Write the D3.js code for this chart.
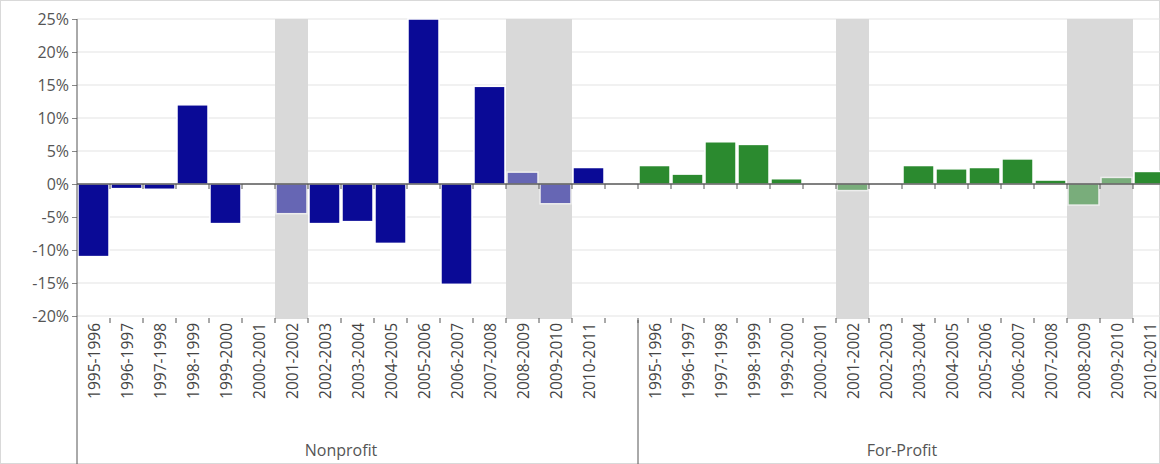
<!DOCTYPE html>
<html><head><meta charset="utf-8">
<script src="https://cdn.jsdelivr.net/npm/d3@7"></script>
<style>body{margin:0;background:#fff}text{font-family:"Open Sans","Liberation Sans",Arial,sans-serif}</style>
</head><body><svg id="c" width="1160" height="464"></svg>
<script>
const years = ["1995-1996","1996-1997","1997-1998","1998-1999","1999-2000","2000-2001","2001-2002","2002-2003","2003-2004","2004-2005","2005-2006","2006-2007","2007-2008","2008-2009","2009-2010","2010-2011"];
const nonprofit = [-11, -0.7, -0.8, 12, -6, 0, -4.5, -6, -5.7, -9, 25, -15.2, 14.8, 1.8, -3, 2.5];
const forprofit = [2.8, 1.5, 6.4, 6.0, 0.8, 0, -1, 0, 2.8, 2.3, 2.5, 3.8, 0.6, -3.2, 1.0, 1.9];
const recession = ["2001-2002","2008-2009","2009-2010"];
const yTicks = [-20,-15,-10,-5,0,5,10,15,20,25];

const svg = d3.select("#c");
const left = 77, plotTop = 19, bottom = 316;
// categories: 16 nonprofit, one blank slot, 16 for-profit
const keys = years.map(y => "N" + y).concat(["gap"], years.map(y => "F" + y));
const x = d3.scaleBand().domain(keys).range([left, left + 33 * 33]).padding(0);
const y = d3.scaleLinear().domain([-20, 25]).range([bottom, plotTop]);

svg.append("rect").attr("x",0.5).attr("y",0.5).attr("width",1159).attr("height",463)
  .attr("fill","none").attr("stroke","#d9d9d9");

// grid
svg.append("g").selectAll("line").data(yTicks).join("line")
  .attr("x1", left).attr("x2", 1160).attr("y1", d => y(d)).attr("y2", d => y(d))
  .attr("stroke", "#e3e3e3");

// recession shading
const shade = keys.filter(k => k !== "gap" && recession.includes(k.slice(1)));
svg.append("g").selectAll("rect").data(shade).join("rect")
  .attr("x", d => x(d)).attr("width", x.bandwidth()).attr("y", plotTop).attr("height", bottom - plotTop + 3)
  .attr("fill", "#d9d9d9");

const bars = years.map((yr, i) => ({k: "N" + yr, v: nonprofit[i], c: "#0a0a96", yr}))
  .concat(years.map((yr, i) => ({k: "F" + yr, v: forprofit[i], c: "#2b8a2f", yr})));
svg.append("g").selectAll("rect").data(bars.filter(d => d.v !== 0)).join("rect")
  .attr("x", d => x(d.k) + 1).attr("width", x.bandwidth() - 2)
  .attr("y", d => y(Math.max(0, d.v))).attr("height", d => Math.abs(y(d.v) - y(0)))
  .attr("fill", d => d.c).attr("opacity", d => recession.includes(d.yr) ? 0.55 : 1)
  .attr("stroke", "#fff").attr("stroke-width", 1.5);

// zero line with ticks
svg.append("line").attr("x1", left).attr("x2", 1160).attr("y1", y(0)).attr("y2", y(0)).attr("stroke", "#111");
const bounds = keys.slice(1).map(k => x(k));
svg.append("g").selectAll("line").data(bounds).join("line")
  .attr("x1", d => d).attr("x2", d => d).attr("y1", y(0)).attr("y2", y(0) + 5).attr("stroke", "#555");
svg.append("g").selectAll("line").data(bounds).join("line")
  .attr("x1", d => d).attr("x2", d => d).attr("y1", bottom + 2).attr("y2", bottom + 7).attr("stroke", "#555");

// y axis
const ya = svg.append("g").attr("transform", `translate(${left},0)`)
  .call(d3.axisLeft(y).tickValues(yTicks).tickFormat(d => d + "%").tickSize(5));
ya.select(".domain").remove();
ya.selectAll("line").attr("stroke", "#888");
ya.selectAll("text").attr("font-size", 16).attr("fill", "#555");
svg.append("line").attr("x1", left).attr("x2", left).attr("y1", plotTop).attr("y2", 464).attr("stroke", "#555");
svg.append("line").attr("x1", x("F1995-1996")).attr("x2", x("F1995-1996")).attr("y1", 320).attr("y2", 464).attr("stroke", "#555");

// category labels
svg.append("g").selectAll("text").data(keys.filter(k => k !== "gap")).join("text")
  .attr("transform", d => `translate(${x(d) + x.bandwidth() / 2 + 6},323) rotate(-90)`)
  .attr("text-anchor", "end").attr("font-size", 15.5).attr("fill", "#444")
  .text(d => d.slice(1));

const groups = [{n: "Nonprofit", k: years.map(y => "N" + y)}, {n: "For-Profit", k: years.map(y => "F" + y)}];
svg.append("g").selectAll("text").data(groups).join("text")
  .attr("x", d => (x(d.k[0]) + x(d.k[15]) + x.bandwidth()) / 2).attr("y", 456)
  .attr("text-anchor", "middle").attr("font-size", 16).attr("fill", "#555").text(d => d.n);
</script></body></html>
